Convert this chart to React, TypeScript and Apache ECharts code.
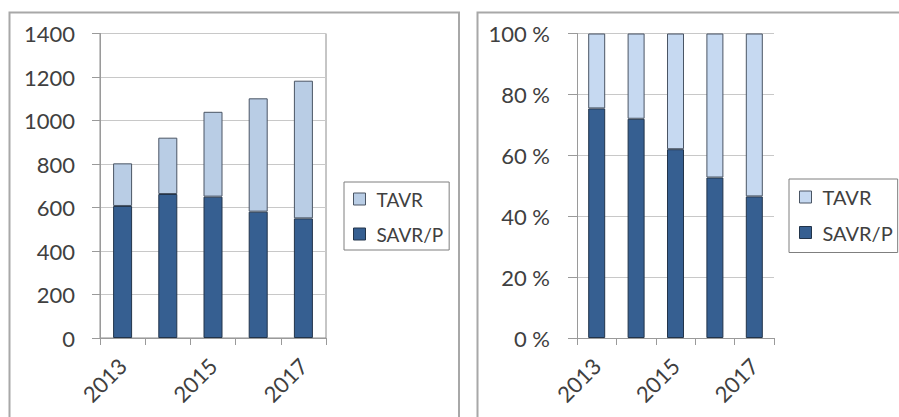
import React, { useEffect, useRef } from "react";
import * as echarts from "echarts";

const years = ["2013", "2014", "2015", "2016", "2017"];
const savrCount = [607, 662, 650, 581, 550];
const tavrCount = [196, 259, 390, 521, 633];
const savrPct = [75.4, 72.0, 62.0, 52.7, 46.5];
const tavrPct = [24.6, 28.0, 38.0, 47.3, 53.5];
const countTicks = { min: 0, max: 1400, interval: 200 };
const pctTicks = { min: 0, max: 100, interval: 20 };

const FONT = "Lato, 'Open Sans', sans-serif";
const DARK = "#365F91";
const LIGHT_L = "#B9CDE5";
const LIGHT_R = "#C6D9F1";
const AXIS = "#9a9a9a";
const GRIDC = "#c8c8c8";
const TXT = "#404040";

export default function App() {
  const ref = useRef<HTMLDivElement>(null);
  useEffect(() => {
    if (!ref.current) return;
    const chart = echarts.init(ref.current, undefined, { renderer: "svg" });

    const xAxisBase = (gridIndex: number) => ({
      type: "category" as const,
      gridIndex,
      data: years,
      axisLine: { show: true, lineStyle: { color: AXIS, width: 1 } },
      axisTick: { show: true, interval: 0, length: 7, lineStyle: { color: AXIS } },
      axisLabel: {
        interval: 1,
        rotate: 45,
        margin: 24,
        fontSize: 22,
        color: TXT,
        fontFamily: FONT,
      },
      splitLine: { show: false },
    });

    const yAxisBase = (gridIndex: number, ticks: any, fmt: any, tickLen: number, margin: number) => ({
      type: "value" as const,
      gridIndex,
      min: ticks.min,
      max: ticks.max,
      interval: ticks.interval,
      axisLine: { show: true, lineStyle: { color: AXIS, width: 1 } },
      axisTick: { show: true, length: tickLen, lineStyle: { color: AXIS } },
      axisLabel: { formatter: fmt, margin, fontSize: 22, color: TXT, fontFamily: FONT },
      splitLine: { show: true, lineStyle: { color: GRIDC, width: 1 } },
    });

    const legendBase = (left: number, top: number, padding: number[], fontSize: number, gap: number, light: string) => ({
      left,
      top,
      orient: "vertical" as const,
      icon: "rect",
      itemWidth: 12,
      itemHeight: 12,
      itemGap: gap,
      padding,
      borderColor: "#7f7f7f",
      borderWidth: 1,
      backgroundColor: "#ffffff",
      selectedMode: false,
      textStyle: {
        fontFamily: FONT,
        fontSize,
        lineHeight: 20,
        color: TXT,
        padding: [0, 0, 0, 6],
      },
      data: [
        { name: "TAVR", itemStyle: { color: light, borderColor: "#4a5564", borderWidth: 1 } },
        { name: "SAVR/P", itemStyle: { color: DARK, borderColor: "#22344a", borderWidth: 1 } },
      ],
    });

    const option: any = {
      animation: false,
      backgroundColor: "#ffffff",
      textStyle: { fontFamily: FONT },
      grid: [
        { left: 100, top: 33.5, width: 226, height: 304.5, show: true, borderColor: "#8c8c8c", borderWidth: 1, backgroundColor: "transparent" },
        { left: 577, top: 33.5, width: 197, height: 304.5 },
      ],
      xAxis: [xAxisBase(0), xAxisBase(1)],
      yAxis: [
        yAxisBase(0, countTicks, (v: number) => String(v), 8, 25),
        yAxisBase(1, pctTicks, (v: number) => v + " %", 9, 27),
      ],
      legend: [
        legendBase(344, 182, [7, 6, 6, 9], 19, 15, LIGHT_L),
        legendBase(789, 179, [8, 5, 10, 10], 20, 15.5, LIGHT_R),
      ],
      series: [
        {
          name: "SAVR/P",
          type: "bar",
          stack: "left",
          xAxisIndex: 0,
          yAxisIndex: 0,
          barWidth: 19,
          data: savrCount,
          itemStyle: { color: DARK, borderColor: "#22344a", borderWidth: 1 },
        },
        {
          name: "TAVR",
          type: "bar",
          stack: "left",
          xAxisIndex: 0,
          yAxisIndex: 0,
          barWidth: 19,
          data: tavrCount,
          itemStyle: { color: LIGHT_L, borderColor: "#4a5564", borderWidth: 1 },
        },
        {
          name: "SAVR/P",
          type: "bar",
          stack: "right",
          xAxisIndex: 1,
          yAxisIndex: 1,
          barWidth: 17,
          data: savrPct,
          itemStyle: { color: DARK, borderColor: "#22344a", borderWidth: 1 },
        },
        {
          name: "TAVR",
          type: "bar",
          stack: "right",
          xAxisIndex: 1,
          yAxisIndex: 1,
          barWidth: 17,
          data: tavrPct,
          itemStyle: { color: LIGHT_R, borderColor: "#4a5564", borderWidth: 1 },
        },
      ],
      graphic: [
        {
          type: "rect",
          silent: true,
          z: -1,
          shape: { x: 9.5, y: 12.5, width: 449.5, height: 420 },
          style: { fill: "none", stroke: "#a8a8a8", lineWidth: 2 },
        },
        {
          type: "rect",
          silent: true,
          z: -1,
          shape: { x: 477.5, y: 12.5, width: 430, height: 420 },
          style: { fill: "none", stroke: "#a8a8a8", lineWidth: 2 },
        },
      ],
    };
    chart.setOption(option);
    return () => chart.dispose();
  }, []);

  return (
    <div
      ref={ref}
      style={{ position: "absolute", left: 0, top: 0, width: 899, height: 417, background: "#fff" }}
    />
  );
}
